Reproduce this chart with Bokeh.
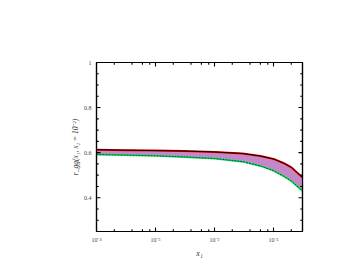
import math
from bokeh.plotting import figure
from bokeh.models import FixedTicker, LinearAxis, LogAxis
from bokeh.embed import file_html
from bokeh.resources import INLINE

# data
x1 = [1e-4, 3e-4, 1e-3, 3e-3, 1e-2, 3e-2, 6e-2, 0.1, 0.15, 0.2, 0.25, 0.31]
upper = [0.613, 0.611, 0.609, 0.607, 0.603, 0.596, 0.585, 0.572, 0.553, 0.535, 0.512, 0.49]
lower = [0.592, 0.589, 0.586, 0.581, 0.574, 0.560, 0.541, 0.520, 0.495, 0.474, 0.452, 0.43]

x_lo, x_hi = 1e-4, 0.31
y_lo, y_hi = 0.25, 1.0

y_ticks = [0.4, 0.6, 0.8, 1.0]
y_labels = ["0.4", "0.6", "0.8", "1"]
y_minor = [0.25, 0.3, 0.35, 0.45, 0.5, 0.55, 0.65, 0.7, 0.75, 0.85, 0.9, 0.95]
x_ticks = [1e-4, 1e-3, 1e-2, 1e-1]
x_labels = ["10⁻⁴", "10⁻³", "10⁻²", "10⁻¹"]
x_minor = [2e-4, 4e-4, 6e-4, 8e-4, 2e-3, 4e-3, 6e-3, 8e-3,
           2e-2, 4e-2, 6e-2, 8e-2, 2e-1]

FONT = "Liberation Serif"

p = figure(frame_width=206, frame_height=169, x_axis_type="log",
           x_range=(x_lo, x_hi), y_range=(y_lo, y_hi),
           output_backend="svg", toolbar_location=None,
           min_border_left=96, min_border_top=62, min_border_right=32,
           min_border_bottom=28)
p.grid.visible = False
p.outline_line_color = "black"
p.outline_line_width = 1.2

p.varea(x=x1, y1=lower, y2=upper, fill_color="#c488c8")
p.line(x1, upper, line_color="red", line_width=2.0)
p.line(x1, upper, line_color="black", line_width=1.0)
p.line(x1, lower, line_color="#22ee22", line_width=2.0)
p.line(x1, lower, line_color="blue", line_width=0.8, line_dash="2 1")

# inward tick marks on all four sides (frame clips the outer half)
for xs_, size in [(x_ticks, 8), (x_minor, 4.5)]:
    for yy in (y_lo, y_hi):
        p.scatter(x=xs_, y=[yy] * len(xs_), marker="dash", size=size,
                  angle=math.pi / 2, line_color="black", line_width=1.1)
for ys_, size in [(y_ticks, 8), (y_minor, 4.5)]:
    for xx in (x_lo, x_hi):
        p.scatter(x=[xx] * len(ys_), y=ys_, marker="dash", size=size,
                  line_color="black", line_width=1.1)

xt = FixedTicker(ticks=x_ticks, minor_ticks=x_minor)
yt = FixedTicker(ticks=y_ticks, minor_ticks=y_minor)

def style(ax, labels=True):
    ax.major_tick_in = 0
    ax.major_tick_out = 0
    ax.minor_tick_in = 0
    ax.minor_tick_out = 0
    ax.axis_line_width = 1.2
    ax.major_label_text_font = FONT
    ax.major_label_text_font_size = "6px"
    ax.major_label_text_color = "#444444"
    ax.major_label_standoff = 5
    if not labels:
        ax.major_label_text_alpha = 0

p.xaxis.ticker = xt
p.yaxis.ticker = yt
p.xaxis.major_label_overrides = {t: l for t, l in zip(x_ticks, x_labels)}
p.yaxis.major_label_overrides = {t: l for t, l in zip(y_ticks, y_labels)}
style(p.xaxis[0])
style(p.yaxis[0])
p.xaxis.axis_label = "x₁"
p.xaxis.axis_label_text_font = FONT
p.xaxis.axis_label_text_font_size = "8px"
p.xaxis.axis_label_text_font_style = "italic"
p.xaxis.axis_label_text_color = "#333333"
p.xaxis.axis_label_standoff = 3

p.yaxis.axis_label = "r_gg(x₁, x₂ = 10⁻²)"
p.yaxis.axis_label_text_font = FONT
p.yaxis.axis_label_text_font_size = "7.5px"
p.yaxis.axis_label_text_font_style = "italic"
p.yaxis.axis_label_text_color = "#333333"
p.yaxis.axis_label_standoff = 1

top = LogAxis(ticker=xt)
style(top, labels=False)
p.add_layout(top, "above")
right = LinearAxis(ticker=yt)
style(right, labels=False)
p.add_layout(right, "right")

open("out.html", "w").write(file_html(p, INLINE))
